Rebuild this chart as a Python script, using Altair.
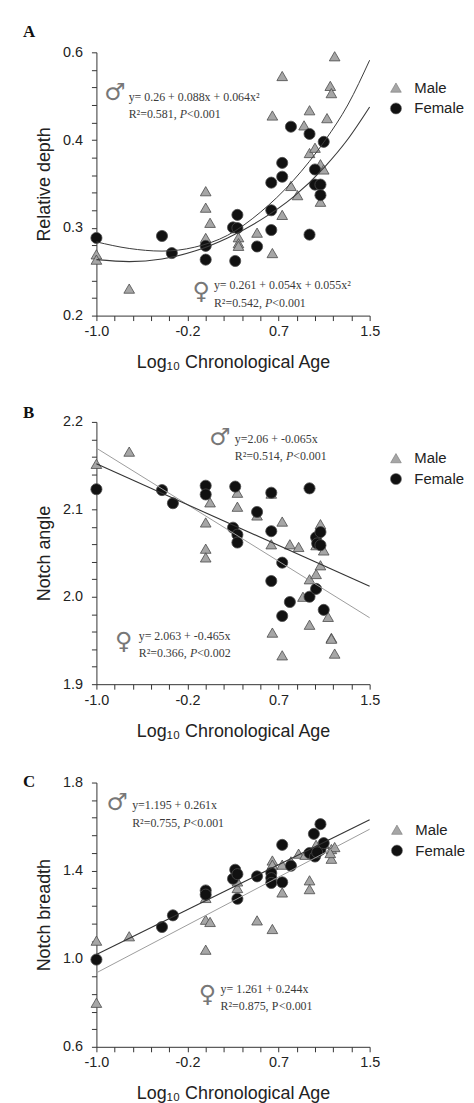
import json
import pandas as pd
import altair as alt

# ------------------------------------------------------------------ data
SEXES = ["Male", "Female"]
X_DOMAIN = [-1.0, 1.5]
X_TICK_LABELS = ["-1.0", "-0.2", "0.7", "1.5"]
X_TITLE = "Log\u2081\u2080 Chronological Age"

# Panel A : relative depth
A_Y_DOMAIN = [0.2, 0.6]
A_Y_LABELS = ["0.2", "0.3", "0.4", "0.6"]
A_MALE_X = [1.18, 0.70, 1.14, 1.15, 0.61, 0.95, 1.11, 0.90, 0.95, 1.00, 1.05, 1.08, 0.78, 0.84,
            1.05, 0.00, 0.00, 0.04, 0.70, 0.47, 0.00, 0.30, 0.30, 0.30, 0.61, -1.00, -1.00, -0.70]
A_MALE_Y = [0.594, 0.564, 0.549, 0.538, 0.504, 0.512, 0.500, 0.489, 0.447, 0.455, 0.430, 0.422, 0.397, 0.383,
            0.373, 0.389, 0.364, 0.341, 0.353, 0.326, 0.318, 0.319, 0.310, 0.306, 0.295, 0.293, 0.285, 0.241]
A_FEM_X = [-1.00, -0.40, -0.31, 0.00, 0.00, 0.27, 0.25, 0.29, 0.29, 0.47, 0.60, 0.60, 0.60, 0.70,
           0.70, 0.78, 0.95, 1.08, 1.00, 1.00, 1.05, 1.05, 0.95]
A_FEM_Y = [0.318, 0.321, 0.295, 0.306, 0.285, 0.283, 0.334, 0.353, 0.333, 0.305, 0.360, 0.330, 0.402, 0.432,
           0.411, 0.487, 0.476, 0.464, 0.422, 0.399, 0.399, 0.383, 0.323]
A_FIT_X = [-1.0, -0.7, -0.4, -0.1, 0.2, 0.5, 0.8, 1.1, 1.3, 1.5]
A_FIT_MALE_Y = [0.312, 0.302, 0.298, 0.304, 0.322, 0.357, 0.405, 0.468, 0.520, 0.588]
A_FIT_FEM_Y = [0.285, 0.282, 0.286, 0.298, 0.318, 0.345, 0.380, 0.428, 0.468, 0.517]

# Panel B : notch angle
B_Y_DOMAIN = [1.9, 2.2]
B_Y_LABELS = ["1.9", "2.0", "2.1", "2.2"]
B_MALE_X = [-1.00, -0.70, 0.00, 0.00, 0.00, 0.04, 0.29, 0.29, 0.47, 0.60, 0.60, 0.70, 0.77, 0.85,
            0.61, 0.70, 0.89, 0.95, 1.01, 1.05, 1.01, 1.05, 1.08, 0.95, 1.12, 1.15, 1.15, 1.18]
B_MALE_Y = [2.152, 2.166, 2.085, 2.055, 2.045, 2.108, 2.119, 2.103, 2.093, 2.118, 2.060, 2.086, 2.060, 2.057,
            1.959, 1.933, 2.000, 2.020, 2.026, 2.036, 2.059, 2.083, 2.053, 1.968, 1.977, 1.953, 1.952, 1.935]
B_FEM_X = [-1.00, -0.40, -0.30, 0.00, 0.00, 0.27, 0.25, 0.29, 0.29, 0.47, 0.60, 0.60, 0.60, 0.70,
           0.95, 0.77, 0.70, 0.95, 1.01, 1.01, 1.05, 1.02, 1.05, 1.08]
B_FEM_Y = [2.123, 2.122, 2.107, 2.127, 2.117, 2.126, 2.079, 2.071, 2.062, 2.097, 2.119, 2.075, 2.018, 2.039,
           2.124, 1.994, 1.978, 2.000, 2.009, 2.068, 2.074, 2.061, 2.059, 1.985]
B_FIT_X = [-1.0, 1.5]
B_FIT_MALE_Y = [2.170, 1.976]
B_FIT_FEM_Y = [2.152, 2.012]

# Panel C : notch breadth
C_Y_DOMAIN = [0.6, 1.8]
C_Y_LABELS = ["0.6", "1.0", "1.4", "1.8"]
C_MALE_X = [-1.00, -1.00, -0.70, 0.00, 0.04, 0.00, 0.00, 0.29, 0.29, 0.47, 0.61, 0.61, 0.61, 0.70,
            0.70, 0.78, 0.85, 0.91, 0.95, 0.95, 1.01, 1.08, 1.15, 1.15, 1.18, 1.14]
C_MALE_Y = [1.082, 0.800, 1.102, 1.177, 1.167, 1.041, 1.276, 1.321, 1.351, 1.174, 1.135, 1.446, 1.427, 1.301,
            1.427, 1.442, 1.477, 1.472, 1.356, 1.316, 1.517, 1.522, 1.498, 1.454, 1.507, 1.480]
C_FEM_X = [-1.00, -0.40, -0.30, 0.00, 0.00, 0.25, 0.27, 0.29, 0.29, 0.47, 0.60, 0.60, 0.60, 0.70,
           0.70, 0.78, 0.95, 1.00, 0.99, 1.05, 1.05, 1.08, 1.02]
C_FEM_Y = [0.996, 1.144, 1.197, 1.310, 1.291, 1.363, 1.404, 1.384, 1.272, 1.374, 1.389, 1.366, 1.344, 1.517,
           1.347, 1.422, 1.480, 1.464, 1.567, 1.611, 1.495, 1.525, 1.483]
C_FIT_X = [-1.0, 1.5]
C_FIT_MALE_Y = [0.936, 1.588]
C_FIT_FEM_Y = [1.019, 1.631]

# annotations (male first, female second)
A_SYM = {"x": [-0.83, -0.04], "y": [0.538, 0.236], "t": ["\u2642", "\u2640"]}
A_EQ = {"x": [-0.705, 0.075], "y": [0.532, 0.246],
        "t": ["y= 0.26 + 0.088x + 0.064x\u00b2", "y= 0.261 + 0.054x + 0.055x\u00b2"]}
A_R2 = {"x": [-0.705, 0.075], "y": [0.507, 0.2196],
        "pre": ["R\u00b2=0.581, ", "R\u00b2=0.542, "], "post": ["<0.001", "<0.001"], "italic": [True, True]}

B_SYM = {"x": [0.13, -0.75], "y": [2.1815, 1.948], "t": ["\u2642", "\u2640"]}
B_EQ = {"x": [0.266, -0.613], "y": [2.180, 1.955], "t": ["y=2.06 +  -0.065x", "y= 2.063 +  -0.465x"]}
B_R2 = {"x": [0.266, -0.613], "y": [2.161, 1.936],
        "pre": ["R\u00b2=0.514, ", "R\u00b2=0.366, "], "post": ["<0.001", "<0.002"], "italic": [True, True]}

C_SYM = {"x": [-0.81, 0.015], "y": [1.708, 0.836], "t": ["\u2642", "\u2640"]}
C_EQ = {"x": [-0.673, 0.136], "y": [1.696, 0.863], "t": ["y=1.195 + 0.261x", "y= 1.261 + 0.244x"]}
C_R2 = {"x": [-0.673, 0.136], "y": [1.618, 0.784],
        "pre": ["R\u00b2=0.755, ", "R\u00b2=0.875, "], "post": ["<0.001", "<0.001"], "italic": [True, False]}

# ------------------------------------------------------------------ style
SANS = "Liberation Sans"
SERIF = "Liberation Serif"
N_MINOR = 15


def tick_values(dom):
    lo, hi = dom
    return [round(lo + (hi - lo) * i / N_MINOR, 6) for i in range(N_MINOR + 1)]


def label_expr(dom, labels):
    lo, hi = dom
    step = (hi - lo) / N_MINOR
    idx = f"round((datum.value - ({lo})) / {step})"
    return f"{idx} % 5 == 0 ? {json.dumps(labels)}[{idx} / 5] : ''"


def panel(letter, letter_y, mx, my, fx, fy, fit_x, fit_m, fit_f, m_col, f_col,
          y_dom, y_labels, y_title, sym, eq, r2, leg_x, leg_y, height, interp):
    xenc = alt.X("x:Q", scale=alt.Scale(domain=X_DOMAIN, nice=False, zero=False),
                 axis=alt.Axis(values=tick_values(X_DOMAIN), labelExpr=label_expr(X_DOMAIN, X_TICK_LABELS),
                               title=X_TITLE, labelFlush=False, labelOverlap=False, labelBound=False,
                               labelPadding=4, titlePadding=16, grid=False))
    yenc = alt.Y("y:Q", scale=alt.Scale(domain=y_dom, nice=False, zero=False),
                 axis=alt.Axis(values=tick_values(y_dom), labelExpr=label_expr(y_dom, y_labels),
                               title=y_title, labelFlush=False, labelOverlap=False, labelBound=False,
                               labelPadding=9, titlePadding=9, grid=False))
    pts = pd.DataFrame({"x": mx + fx, "y": my + fy,
                        "sex": ["Male"] * len(mx) + ["Female"] * len(fx)})
    legend = alt.Legend(title=None, orient="none", legendX=leg_x, legendY=leg_y,
                        labelFont=SANS, labelFontSize=15, labelColor="#222",
                        symbolSize=150, labelOffset=11, rowPadding=5, padding=0,
                        symbolStrokeWidth=0.6, symbolStrokeColor="#777")
    points = alt.Chart(pts).mark_point(filled=True, opacity=1, stroke="#4a4a4a", strokeWidth=0.8).encode(
        x=xenc, y=yenc,
        color=alt.Color("sex:N", scale=alt.Scale(domain=SEXES, range=["#a6a6a6", "#111111"]), legend=legend),
        shape=alt.Shape("sex:N", scale=alt.Scale(domain=SEXES, range=["triangle-up", "circle"]), legend=legend),
        size=alt.Size("sex:N", scale=alt.Scale(domain=SEXES, range=[115, 125]), legend=None),
    )
    line_m = alt.Chart(pd.DataFrame({"x": fit_x, "y": fit_m})).mark_line(
        color=m_col, strokeWidth=1, interpolate=interp).encode(x=xenc, y=yenc)
    line_f = alt.Chart(pd.DataFrame({"x": fit_x, "y": fit_f})).mark_line(
        color=f_col, strokeWidth=1.1, interpolate=interp).encode(x=xenc, y=yenc)

    sym_l = alt.Chart(pd.DataFrame(sym)).mark_text(
        font="DejaVu Sans", fontSize=24, color="#777", align="center", baseline="middle").encode(
        x=xenc, y=yenc, text="t:N")
    eq_l = alt.Chart(pd.DataFrame(eq)).mark_text(
        font=SERIF, fontSize=12, color="#3a3a3a", align="left", baseline="middle").encode(
        x=xenc, y=yenc, text="t:N")
    r2df = pd.DataFrame(r2)
    r2df["p_it"] = ["P" if i else "" for i in r2df["italic"]]
    r2df["p_up"] = ["" if i else "P" for i in r2df["italic"]]
    r2df = r2df.drop(columns=["italic"])
    base_t = dict(font=SERIF, fontSize=12, color="#3a3a3a", align="left", baseline="middle")
    pre_l = alt.Chart(r2df).mark_text(**base_t).encode(x=xenc, y=yenc, text="pre:N")
    pit_l = alt.Chart(r2df).mark_text(dx=51.5, fontStyle="italic", **base_t).encode(x=xenc, y=yenc, text="p_it:N")
    pup_l = alt.Chart(r2df).mark_text(dx=51.5, **base_t).encode(x=xenc, y=yenc, text="p_up:N")
    post_l = alt.Chart(r2df).mark_text(dx=58.8, **base_t).encode(x=xenc, y=yenc, text="post:N")

    letter_l = alt.Chart(pd.DataFrame({"t": [letter]})).mark_text(
        font=SERIF, fontSize=17, fontWeight="bold", color="#111", align="left", baseline="alphabetic").encode(
        x=alt.value(-74), y=alt.value(letter_y), text="t:N")

    return alt.layer(points, line_m, line_f, sym_l, eq_l, pre_l, pit_l, pup_l, post_l, letter_l).properties(
        width=275, height=height)


pA = panel("A", -15, A_MALE_X, A_MALE_Y, A_FEM_X, A_FEM_Y, A_FIT_X, A_FIT_MALE_Y, A_FIT_FEM_Y,
           "#3a3a3a", "#3a3a3a", A_Y_DOMAIN, A_Y_LABELS, "Relative depth", A_SYM, A_EQ, A_R2,
           294, 28, 265, "monotone")
pB = panel("B", -4, B_MALE_X, B_MALE_Y, B_FEM_X, B_FEM_Y, B_FIT_X, B_FIT_MALE_Y, B_FIT_FEM_Y,
           "#9c9c9c", "#333333", B_Y_DOMAIN, B_Y_LABELS, "Notch angle", B_SYM, B_EQ, B_R2,
           294, 29, 264, "linear")
pC = panel("C", 4, C_MALE_X, C_MALE_Y, C_FEM_X, C_FEM_Y, C_FIT_X, C_FIT_MALE_Y, C_FIT_FEM_Y,
           "#9c9c9c", "#333333", C_Y_DOMAIN, C_Y_LABELS, "Notch breadth", C_SYM, C_EQ, C_R2,
           295, 40, 266, "linear")

chart = alt.vconcat(pA, pB, pC, spacing=32).resolve_scale(
    x="independent", y="independent", color="independent", shape="independent", size="independent"
).resolve_legend(
    color="independent", shape="independent", size="independent"
).configure_view(stroke=None).configure_axis(
    domainColor="#333", domainWidth=1, tickColor="#333", tickSize=5, tickWidth=1,
    labelFont=SANS, labelFontSize=14.5, labelColor="#222",
    titleFont=SANS, titleFontSize=18, titleFontWeight="normal", titleColor="#222",
).properties(padding={"left": 15, "top": 12, "right": 0, "bottom": 4})

chart.save("out.html", embed_options={"renderer": "svg", "actions": False})
